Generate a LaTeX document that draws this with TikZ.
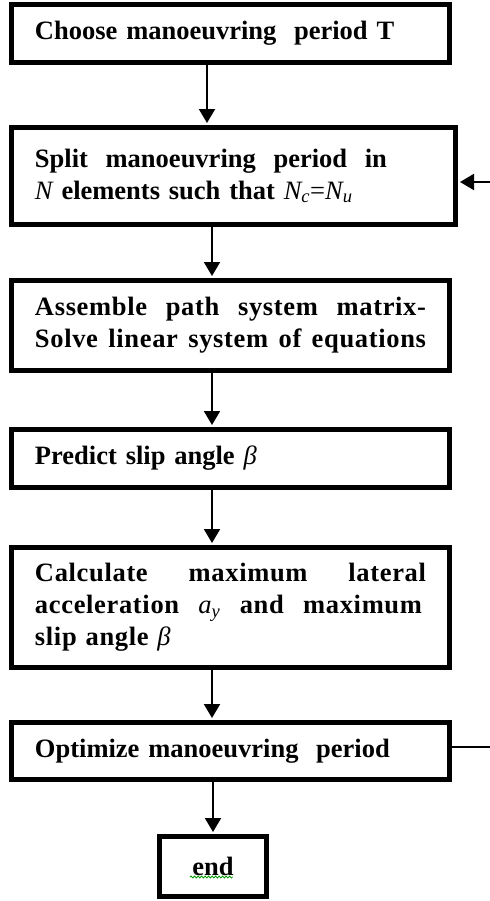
\documentclass[tikz,border=0pt]{standalone}
\usepackage{fontspec}
\setmainfont{Liberation Serif}
\usetikzlibrary{arrows.meta,decorations.pathmorphing}
\newcommand\mvar[1]{{\itshape\mdseries #1}}
\newcommand\msub[1]{\textsubscript{\itshape\mdseries #1}}
\newcommand\spr{\addfontfeature{LetterSpace=2.5}}
\newcommand\fullline[2]{\leavevmode\hbox to #1{#2}}
\begin{document}
\begin{tikzpicture}[x=1bp,y=-1bp,
  box/.style={draw, line width=5bp, rectangle, inner xsep=23.5bp, inner ysep=0pt,
    minimum width=438bp, text width=391bp, align=left,
    font=\bfseries\fontsize{26.5bp}{32bp}\selectfont},
  endbox/.style={draw, line width=5bp, rectangle, inner sep=0pt,
    minimum width=107bp, minimum height=60bp,
    font=\bfseries\fontsize{26.5bp}{32bp}\selectfont},
  arr/.style={line width=2bp, -{Triangle[width=16bp,length=14bp]}, shorten >=2bp},
  fbline/.style={line width=2bp}]
\useasboundingbox (0,0) rectangle (490,901);

\node[box, minimum height=58bp] (b1) at (230.5,33.5) {Choose manoeuvring\ \ period T};
\node[box, minimum width=444bp, text width=397bp, minimum height=97bp] (b2) at (233.5,176)
  {Split\ \ manoeuvring\ \ period\ \ in\\\mvar{N} elements such that \mvar{N}\msub{c}{\mdseries=}\mvar{N}\msub{u}\par\vspace{34bp}};
\node[box, minimum height=90bp] (b3) at (230.5,325.5)
  {\spr\fullline{391bp}{Assemble\hfill path\hfill system\hfill matrix-}\\\fullline{391bp}{Solve\hfill linear\hfill system\hfill of\hfill equations}};
\node[box, minimum height=120bp] (b5) at (230.5,607.5)
  {\spr\fullline{391bp}{Calculate\hfill maximum\hfill lateral}\\\fullline{387bp}{acceleration\hfill \mvar{a}\msub{y}\hfill and\hfill maximum}\\slip angle \mvar{β}};
\node[box, minimum height=58bp] (b4) at (230.5,458.5) {Predict slip angle \mvar{β}};
\node[box, minimum height=57bp] (b6) at (230.5,751) {Optimize manoeuvring\ \ period};
\node[endbox] (b7) at (213,866.5) {end};

\coordinate (x1) at (207,0);
\coordinate (x2) at (212,0);
\coordinate (x3) at (213,0);
\coordinate (fbout) at (490,747);
\coordinate (fbin) at (490,182);

\draw[arr] (b1.south -| x1) -- (b2.north -| x1);
\draw[arr] (b2.south -| x2) -- (b3.north -| x2);
\draw[arr] (b3.south -| x2) -- (b4.north -| x2);
\draw[arr] (b4.south -| x2) -- (b5.north -| x2);
\draw[arr] (b5.south -| x2) -- (b6.north -| x2);
\draw[arr] (b6.south -| x3) -- (b7.north -| x3);
\draw[fbline] (fbout -| b6.east) -- (fbout);
\draw[arr] (fbin) -- (fbin -| b2.east);

\draw[green!60!black, line width=0.8bp, decorate,
  decoration={snake, amplitude=1bp, segment length=3.5bp}] (190,877) -- (233,877);
\end{tikzpicture}
\end{document}
